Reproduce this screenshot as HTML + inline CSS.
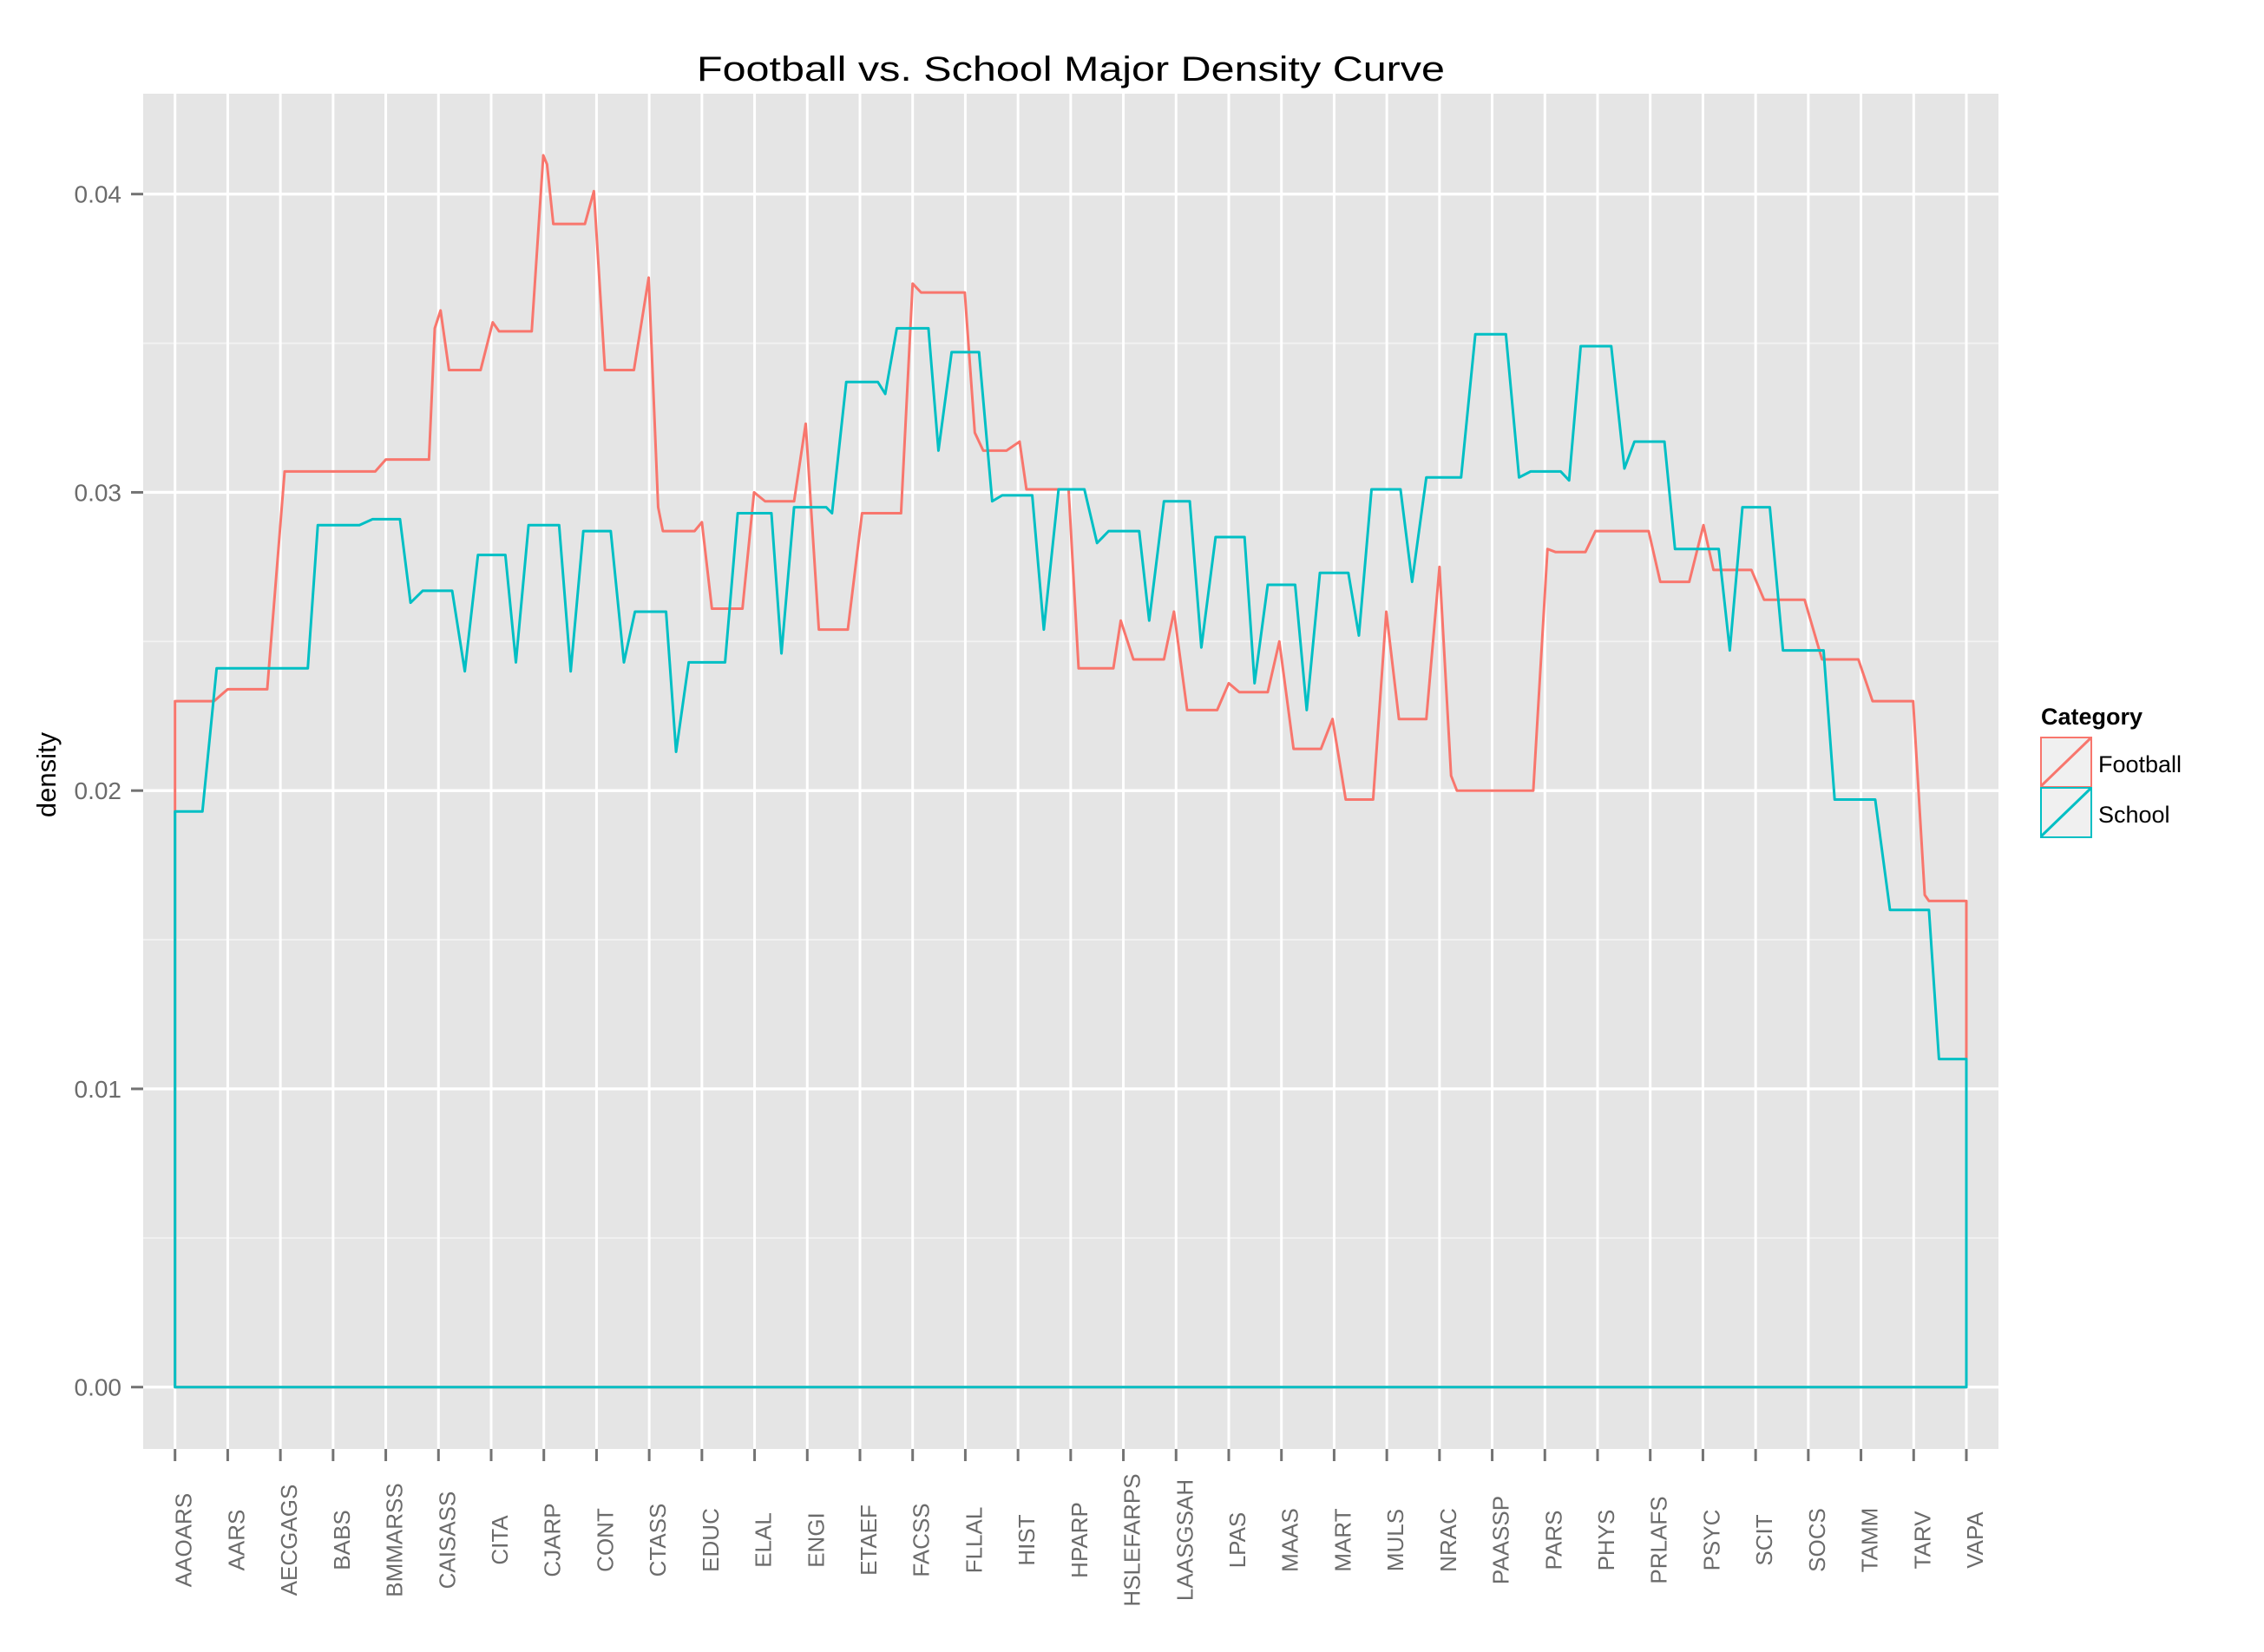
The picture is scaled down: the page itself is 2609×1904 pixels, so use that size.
<!DOCTYPE html>
<html><head><meta charset="utf-8"><style>
html,body{margin:0;padding:0;background:#fff;}
svg{display:block;font-family:"Liberation Sans",sans-serif;}
</style></head><body>
<svg id="chart" width="2609" height="1904" viewBox="0 0 2609 1904" xmlns="http://www.w3.org/2000/svg">
<rect x="0" y="0" width="2609" height="1904" fill="#fff"/>
<rect x="165" y="108" width="2138" height="1562" fill="#e5e5e5"/>
<g id="grid"></g>
<g id="series"></g>
<g id="axes"></g>
<text x="1234" y="93" font-size="40" text-anchor="middle" fill="#000" textLength="862" lengthAdjust="spacingAndGlyphs">Football vs. School Major Density Curve</text>
<text transform="translate(64,893) rotate(-90)" font-size="31" text-anchor="middle" fill="#000">density</text>
<g>
<text x="2352" y="835" font-size="27" font-weight="bold">Category</text>
<g>
<rect x="2352" y="850" width="58" height="57" fill="#f0f0f0" stroke="#F8766D" stroke-width="2"/>
<line x1="2352" y1="906" x2="2410" y2="850" stroke="#F8766D" stroke-width="3"/>
<text x="2418" y="890" font-size="27">Football</text></g>
<g>
<rect x="2352" y="908" width="58" height="57" fill="#f0f0f0" stroke="#00BFC4" stroke-width="2"/>
<line x1="2352" y1="964" x2="2410" y2="908" stroke="#00BFC4" stroke-width="3"/>
<text x="2418" y="948" font-size="27">School</text></g>
</g>
</svg>
<script>
const categories=["AAOARS","AARS","AECGAGS","BABS","BMMARSS","CAISASS","CITA","CJARP","CONT","CTASS","EDUC","ELAL","ENGI","ETAEF","FACSS","FLLAL","HIST","HPARP","HSLEFARPS","LAASGSAH","LPAS","MAAS","MART","MULS","NRAC","PAASSP","PARS","PHYS","PRLAFS","PSYC","SCIT","SOCS","TAMM","TARV","VAPA"];
const yTicks=[0,0.01,0.02,0.03,0.04];
const yTickLabels=["0.00","0.01","0.02","0.03","0.04"];
const footballX=[0,0,0.74,1.0,1.75,2.08,3.8,4.0,4.82,4.93,5.04,5.2,5.8,6.03,6.15,6.77,6.99,7.06,7.18,7.78,7.95,8.16,8.71,8.99,9.17,9.26,9.86,10.0,10.19,10.77,10.99,11.2,11.75,11.97,12.22,12.77,13.04,13.78,14.0,14.16,14.99,15.18,15.34,15.78,16.03,16.16,16.96,17.15,17.81,17.95,18.19,18.77,18.96,19.21,19.78,20.0,20.2,20.74,20.96,21.23,21.75,21.97,22.22,22.74,22.99,23.23,23.75,24.0,24.22,24.33,25.78,26.05,26.2,26.77,26.96,27.97,28.19,28.74,29.01,29.2,29.92,30.16,30.93,31.26,31.95,32.22,32.99,33.21,33.29,34,34];
const footballY=[0,0.0230,0.0230,0.0234,0.0234,0.0307,0.0307,0.0311,0.0311,0.0355,0.0361,0.0341,0.0341,0.0357,0.0354,0.0354,0.0413,0.0410,0.0390,0.0390,0.0401,0.0341,0.0341,0.0372,0.0295,0.0287,0.0287,0.0290,0.0261,0.0261,0.0300,0.0297,0.0297,0.0323,0.0254,0.0254,0.0293,0.0293,0.0370,0.0367,0.0367,0.0320,0.0314,0.0314,0.0317,0.0301,0.0301,0.0241,0.0241,0.0257,0.0244,0.0244,0.0260,0.0227,0.0227,0.0236,0.0233,0.0233,0.0250,0.0214,0.0214,0.0224,0.0197,0.0197,0.0260,0.0224,0.0224,0.0275,0.0205,0.0200,0.0200,0.0281,0.0280,0.0280,0.0287,0.0287,0.0270,0.0270,0.0289,0.0274,0.0274,0.0264,0.0264,0.0244,0.0244,0.0230,0.0230,0.0165,0.0163,0.0163,0];
const schoolX=[0,0,0.52,0.79,2.52,2.71,3.5,3.75,4.27,4.47,4.7,5.26,5.5,5.75,6.27,6.47,6.71,7.29,7.51,7.75,8.27,8.52,8.73,9.32,9.51,9.75,10.44,10.68,11.32,11.51,11.75,12.36,12.47,12.74,13.34,13.48,13.7,14.3,14.49,14.74,15.26,15.51,15.7,16.27,16.49,16.77,17.26,17.5,17.72,18.3,18.49,18.77,19.26,19.48,19.75,20.3,20.49,20.74,21.26,21.48,21.73,22.27,22.47,22.71,23.26,23.48,23.75,24.41,24.68,25.26,25.51,25.73,26.3,26.46,26.68,27.26,27.51,27.7,28.27,28.47,29.3,29.51,29.75,30.27,30.52,31.29,31.5,32.27,32.55,33.29,33.48,34,34];
const schoolY=[0,0.0193,0.0193,0.0241,0.0241,0.0289,0.0289,0.0291,0.0291,0.0263,0.0267,0.0267,0.0240,0.0279,0.0279,0.0243,0.0289,0.0289,0.0240,0.0287,0.0287,0.0243,0.0260,0.0260,0.0213,0.0243,0.0243,0.0293,0.0293,0.0246,0.0295,0.0295,0.0293,0.0337,0.0337,0.0333,0.0355,0.0355,0.0314,0.0347,0.0347,0.0297,0.0299,0.0299,0.0254,0.0301,0.0301,0.0283,0.0287,0.0287,0.0257,0.0297,0.0297,0.0248,0.0285,0.0285,0.0236,0.0269,0.0269,0.0227,0.0273,0.0273,0.0252,0.0301,0.0301,0.0270,0.0305,0.0305,0.0353,0.0353,0.0305,0.0307,0.0307,0.0304,0.0349,0.0349,0.0308,0.0317,0.0317,0.0281,0.0281,0.0247,0.0295,0.0295,0.0247,0.0247,0.0197,0.0197,0.0160,0.0160,0.0110,0.0110,0];

const NS="http://www.w3.org/2000/svg";
const X0=201.7,DX=(2266-201.7)/34,Y0=1598.7,YK=34375;
function xs(i){return X0+i*DX;}
function ys(v){return Y0-v*YK;}
function mk(tag,attrs,parent){const e=document.createElementNS(NS,tag);for(const k in attrs)e.setAttribute(k,attrs[k]);parent.appendChild(e);return e;}
const grid=document.getElementById('grid'),axes=document.getElementById('axes'),series=document.getElementById('series');
for(let i=-1;i<yTicks.length;i++){
  const v=(i<0?-0.01:yTicks[i])+0.005;const y=ys(v);
  if(y>108&&y<1670){const l=mk('line',{x1:165,x2:2303,y1:y,y2:y,stroke:'#f2f2f2','stroke-width':1.8},grid);
  
  }
}
yTicks.forEach((v,i)=>{
  const y=ys(v);
  const l=mk('line',{x1:165,x2:2303,y1:y,y2:y,stroke:'#fff','stroke-width':3.4},grid);
  
  
  const t=mk('line',{x1:151,x2:165,y1:y,y2:y,stroke:'#737373','stroke-width':3},axes);
  
  
  const tx=mk('text',{x:140,y:y+10,'font-size':28,'text-anchor':'end',fill:'#6b6b6b'},axes);
  tx.textContent=yTickLabels[i];
  
  
});
categories.forEach((c,i)=>{
  const x=xs(i);
  const l=mk('line',{x1:x,x2:x,y1:108,y2:1670,stroke:'#fff','stroke-width':3},grid);
  
  
  const t=mk('line',{x1:x,x2:x,y1:1670,y2:1684,stroke:'#737373','stroke-width':3},axes);
  
  
  const tx=mk('text',{transform:`translate(${x+19},1775) rotate(-90)`,'font-size':26,'text-anchor':'middle',fill:'#6b6b6b'},axes);
  tx.textContent=c;
  
  
});
function drawSeries(xa,ya,color,name){
  const pts=xa.map((x,i)=>xs(x).toFixed(2)+','+ys(ya[i]).toFixed(2)).join(' ');
  const p=mk('polygon',{points:pts,fill:'none',stroke:color,'stroke-width':3,'stroke-linejoin':'round'},series);
  
  
}
drawSeries(footballX,footballY,'#F8766D','football-density-line');
drawSeries(schoolX,schoolY,'#00BFC4','school-density-line');
</script>
</body></html>
